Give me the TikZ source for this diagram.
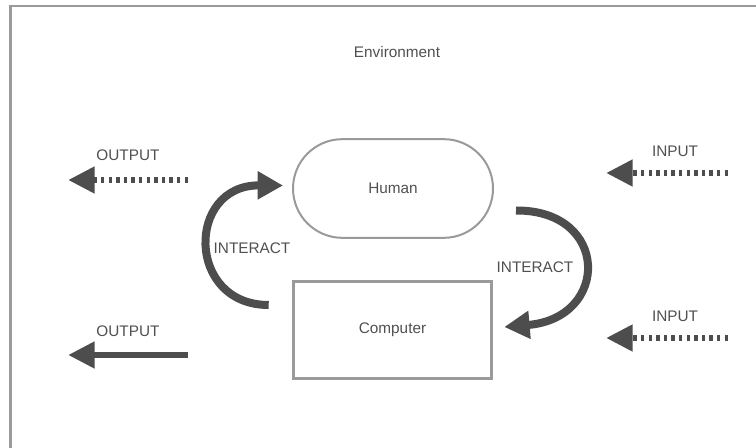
\documentclass[tikz,border=0pt]{standalone}
\usepackage{fontspec}
\setmainfont{Liberation Sans}
\usetikzlibrary{arrows.meta,calc,positioning}
\definecolor{framegray}{HTML}{9A9A9A}
\definecolor{arrowgray}{HTML}{4D4D4D}
\definecolor{textgray}{HTML}{505050}
\tikzset{
  lbl/.style={text=textgray,font=\fontsize{11.5}{13}\selectfont},
  humanbox/.style={draw=framegray,line width=1.5pt,rounded corners=37pt,
    minimum width=150pt,minimum height=74pt,inner sep=0pt,lbl},
  compbox/.style={draw=framegray,line width=2.2pt,
    minimum width=149pt,minimum height=73pt,inner sep=0pt,lbl},
  interact/.style={draw=arrowgray,line width=6pt,
    -{Triangle[length=19pt,width=20pt]}},
  solidarrow/.style={draw=arrowgray,line width=5pt,
    -{Triangle[length=20pt,width=19pt]}},
  dotarrow/.style={solidarrow,dash pattern=on 2.5pt off 3.2pt}
}
\begin{document}
\begin{tikzpicture}[x=0.75pt,y=-0.75pt]
\useasboundingbox (0,0) rectangle (756,448);
%\draw[step=50,gray,very thin] (0,0) grid (756,448); %background grid

% environment frame
\draw[framegray,line width=2.2pt] (10.5,448) -- (10.5,6) -- (756,6);
\node[lbl] (env) at (397,52) {Environment};

% human and computer
\node[humanbox] (hum) at (393,188.5) {Human};
\node[compbox] (comp) at (392.5,330) {Computer};

% interaction arcs
\coordinate (lstart) at ($(comp.west)+(-23,-25)$);
\coordinate (lend) at ($(hum.west)+(-9,-3)$);
\coordinate (rstart) at ($(hum.east)+(22,22)$);
\coordinate (rend) at ($(comp.east)+(11,-3)$);
\draw[interact] (lstart) .. controls (186,305) and (186,185) .. (lend);
\draw[interact] (rstart) .. controls (610,210) and (610,318) .. (rend);
\node[lbl] (intl) at (252,248) {INTERACT};
\node[lbl] (intr) at (535,267) {INTERACT};

% outputs
\coordinate (outa) at (188,180);
\coordinate (outatip) at (68,180);
\draw[dotarrow] (outa) -- (outatip);
\node[lbl] (outla) at (128,155) {OUTPUT};
\coordinate (outb) at (188,355);
\coordinate (outbtip) at (68,355);
\draw[solidarrow] (outb) -- (outbtip);
\node[lbl] (outlb) at (128,331) {OUTPUT};

% inputs
\coordinate (ina) at (728,173);
\coordinate (inatip) at (606,173);
\draw[dotarrow] (ina) -- (inatip);
\node[lbl] (inla) at (675,151) {INPUT};
\coordinate (inb) at (728,338);
\coordinate (inbtip) at (606,338);
\draw[dotarrow] (inb) -- (inbtip);
\node[lbl] (inlb) at (675,316) {INPUT};
\end{tikzpicture}
\end{document}
